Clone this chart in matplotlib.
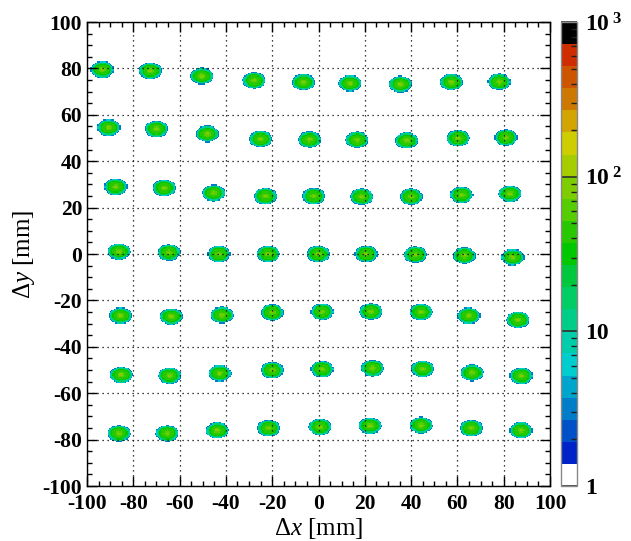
import numpy as np
import matplotlib
matplotlib.use("Agg")
import matplotlib.pyplot as plt
from matplotlib.colors import ListedColormap, LogNorm
from matplotlib.ticker import MultipleLocator, FixedLocator

plt.rcParams["font.family"] = "Liberation Serif"
plt.rcParams["mathtext.fontset"] = "custom"
plt.rcParams["mathtext.rm"] = "Liberation Serif"
plt.rcParams["mathtext.it"] = "Liberation Serif:italic"
plt.rcParams["mathtext.bf"] = "Liberation Serif:bold"
plt.rcParams["axes.unicode_minus"] = False

# spot centres [mm], one list per row of the beam-spot grid (top to bottom)
row1_x = [-93.4, -72.6, -50.4, -27.8, -6.5, 13.7, 35.4, 57.4, 78.1]
row1_y = [79.5, 79.0, 76.7, 74.8, 74.1, 73.6, 73.2, 74.1, 74.2]
row2_x = [-90.6, -70.0, -48.0, -25.0, -3.9, 16.7, 38.1, 60.3, 81.0]
row2_y = [54.5, 53.9, 51.8, 49.6, 49.3, 49.2, 48.9, 49.9, 50.2]
row3_x = [-87.6, -66.6, -45.3, -22.9, -2.0, 18.6, 40.0, 61.8, 82.7]
row3_y = [29.0, 28.5, 26.3, 24.9, 24.9, 24.7, 24.7, 25.5, 26.0]
row4_x = [-86.2, -64.6, -43.0, -21.7, -0.1, 20.6, 41.9, 63.0, 83.9]
row4_y = [1.1, 0.7, 0.0, 0.0, 0.0, 0.0, -0.3, -0.7, -1.4]
row5_x = [-85.5, -63.6, -41.7, -20.0, 1.6, 22.7, 44.3, 64.9, 86.2]
row5_y = [-26.6, -26.9, -26.3, -25.2, -24.9, -24.8, -25.0, -26.6, -28.4]
row6_x = [-85.2, -64.3, -42.7, -20.0, 1.6, 23.4, 45.0, 66.3, 87.6]
row6_y = [-52.1, -52.4, -51.4, -50.1, -49.6, -49.2, -49.5, -51.2, -52.5]
row7_x = [-86.2, -65.3, -43.7, -21.5, 0.7, 22.3, 44.3, 66.0, 87.5]
row7_y = [-77.3, -77.3, -76.1, -75.1, -74.5, -74.0, -73.8, -75.1, -76.0]

# spot size (semi axes, mm) and counts per ring
spot_a = 5.0
spot_b = 3.6
ring_edges = [0.15, 0.3, 0.45, 0.6, 0.72, 0.81, 0.88, 0.94, 1.0]
ring_counts = [90, 68, 50, 38, 28, 18, 11, 6, 3]

palette = ["#ffffff",
           "#0023c8", "#0050c8", "#007dc8", "#00a5cd", "#00cdcd",
           "#00cdaa", "#00cd87", "#00cd64", "#00c83c", "#00c800",
           "#28c800", "#55cd00", "#7dcd00", "#a5cd00", "#cdcd00",
           "#d2a500", "#cd7800", "#cd5500", "#cd2d00", "#000000"]

spots_x = np.concatenate([row1_x, row2_x, row3_x, row4_x, row5_x, row6_x, row7_x])
spots_y = np.concatenate([row1_y, row2_y, row3_y, row4_y, row5_y, row6_y, row7_y])

edges = np.arange(-100, 100.25, 0.5)
centres = 0.5 * (edges[:-1] + edges[1:])
X, Y = np.meshgrid(centres, centres)
H = np.zeros_like(X)
for sx, sy in zip(spots_x, spots_y):
    r = np.sqrt(((X - sx) / spot_a) ** 2 + ((Y - sy) / spot_b) ** 2)
    inside = r < 1.0
    idx = np.digitize(r[inside], ring_edges)
    H[inside] = np.array(ring_counts)[idx]
H = np.ma.masked_where(H <= 0, H)

cmap = ListedColormap(palette)
cmap.set_bad("white")
cmap.set_under("white")

fig = plt.figure(figsize=(6.31, 5.41), dpi=100)
ax = fig.add_axes([87 / 631, 1 - 486 / 541, 463 / 631, 464 / 541])
mesh = ax.pcolormesh(edges, edges, H, cmap=cmap, norm=LogNorm(vmin=1, vmax=1000))

ax.set_xlim(-100, 100)
ax.set_ylim(-100, 100)
ax.xaxis.set_major_locator(MultipleLocator(20))
ax.yaxis.set_major_locator(MultipleLocator(20))
ax.xaxis.set_minor_locator(MultipleLocator(5))
ax.yaxis.set_minor_locator(MultipleLocator(5))
ax.tick_params(which="both", direction="in", top=True, right=True,
               labelsize=15.5)
ax.tick_params(axis="x", pad=6)
ax.tick_params(which="major", length=7, width=1)
ax.tick_params(which="minor", length=3.5, width=1)
for lab in ax.get_xticklabels() + ax.get_yticklabels():
    lab.set_fontweight("bold")
ax.grid(True, which="major", color="black", linestyle=(0, (1, 3)), linewidth=0.9)
for s in ax.spines.values():
    s.set_linewidth(1.0)
ax.set_xlabel(r"$\Delta x$ [mm]", fontsize=18, labelpad=1)
ax.set_ylabel(r"$\Delta y$ [mm]", fontsize=18, labelpad=4)

cax = fig.add_axes([561 / 631, 1 - 486 / 541, 16 / 631, 464 / 541])
cb = fig.colorbar(mesh, cax=cax)
cb.outline.set_edgecolor("#888888")
cb.outline.set_linewidth(1)
cax.yaxis.set_major_locator(FixedLocator([1, 10, 100, 1000]))
cax.set_yticklabels(["1", "10", r"10$^{\ \mathbf{2}}$", r"10$^{\ \mathbf{3}}$"])
cax.tick_params(which="major", direction="in", length=11.5, width=1.2,
                labelsize=17, color="#303030", pad=6)
cax.tick_params(which="minor", direction="in", length=4.5, width=1, color="#202020")
for lab in cax.get_yticklabels():
    lab.set_fontweight("bold")

fig.savefig("out.png", dpi=100)
